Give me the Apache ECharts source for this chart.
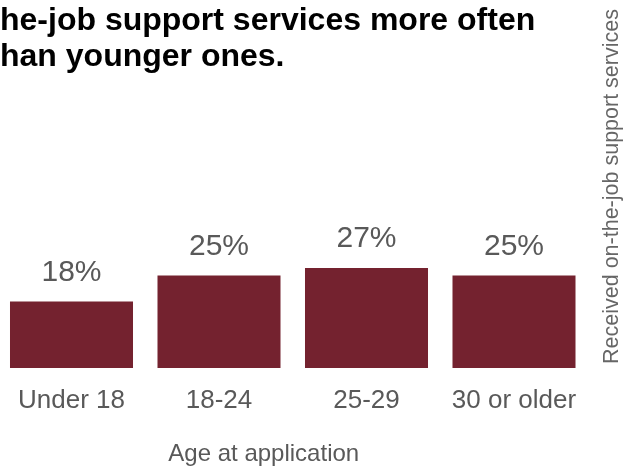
<!DOCTYPE html>
<html>
<head>
<meta charset="utf-8">
<script src="https://cdn.jsdelivr.net/npm/echarts@6/dist/echarts.min.js"></script>
<style>
html,body{margin:0;padding:0;background:#fff;}
#chart{width:624px;height:467px;}
</style>
</head>
<body>
<div id="chart"></div>
<script>
var categories = ["Under 18", "18-24", "25-29", "30 or older"];
var values = [18, 25, 27, 25];
var titleLines = ["he-job support services more often", "han younger ones."];
var xAxisName = "Age at application";
var yAxisName = "Received on-the-job support services";

var FONT = "'Liberation Sans', Arial, Helvetica, sans-serif";
var chart = echarts.init(document.getElementById('chart'), null, {renderer: 'canvas'});
chart.setOption({
  animation: false,
  backgroundColor: '#ffffff',
  title: {
    text: titleLines.join('\n'),
    left: 0,
    top: 3,
    padding: 0,
    textStyle: {
      fontFamily: FONT,
      fontWeight: 'bold',
      fontSize: 32,
      lineHeight: 36,
      color: '#000000'
    }
  },
  grid: {
    left: -2.25,
    right: 36.25,
    top: -2,
    bottom: 99,
    containLabel: false,
    outerBoundsMode: 'none'
  },
  xAxis: {
    type: 'category',
    data: categories,
    axisLine: {show: false},
    axisTick: {show: false},
    splitLine: {show: false},
    axisLabel: {
      interval: 0,
      hideOverlap: false,
      fontFamily: FONT,
      fontSize: 26,
      color: '#595959',
      margin: 20
    },
    name: xAxisName,
    nameLocation: 'middle',
    nameGap: 74,
    nameTextStyle: {
      fontFamily: FONT,
      fontSize: 24,
      color: '#595959',
      padding: [0, 58, 0, 0]
    }
  },
  yAxis: {
    type: 'value',
    position: 'right',
    min: 0,
    max: 100,
    axisLine: {show: false},
    axisTick: {show: false},
    axisLabel: {show: false},
    splitLine: {show: false},
    name: yAxisName,
    nameLocation: 'middle',
    nameRotate: 90,
    nameGap: 13,
    nameTextStyle: {
      fontFamily: FONT,
      fontSize: 21.5,
      color: '#666666',
      padding: [0, 7, 0, 0]
    }
  },
  series: [{
    type: 'bar',
    data: values,
    barCategoryGap: '16.6%',
    itemStyle: {color: '#74222f'},
    label: {
      show: true,
      position: 'top',
      distance: 14,
      formatter: '{c}%',
      fontFamily: FONT,
      fontSize: 30,
      color: '#595959'
    }
  }]
});
</script>
</body>
</html>
